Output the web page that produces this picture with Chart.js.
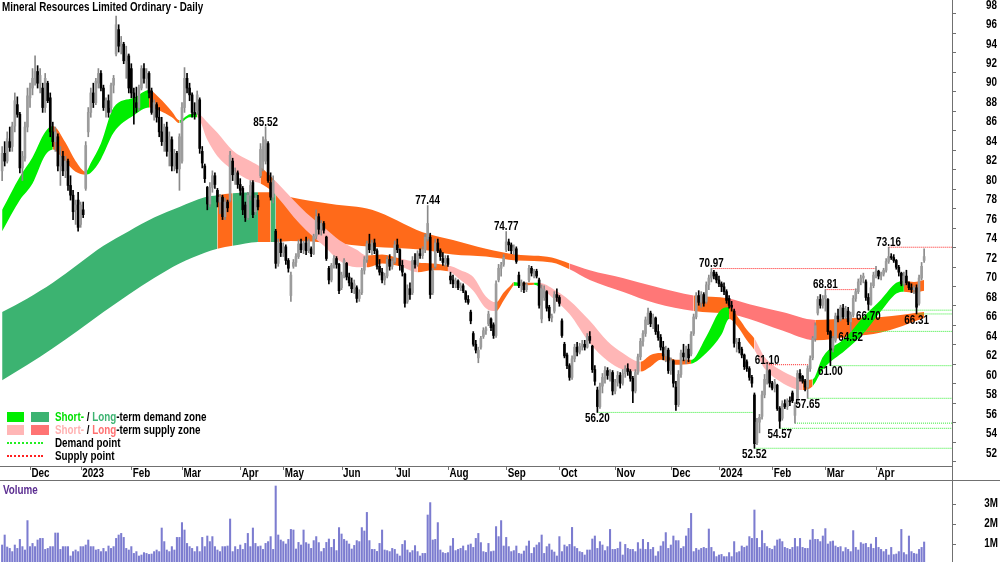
<!DOCTYPE html>
<html>
<head>
<meta charset="utf-8">
<title>Mineral Resources Limited Ordinary - Daily</title>
<script src="https://cdn.jsdelivr.net/npm/chart.js@4.4.1/dist/chart.umd.min.js"></script>
<style>
  body { margin: 0; background: #fff; }
  #wrap { position: relative; width: 1000px; height: 562px; overflow: hidden; background: #fff; font-family: "Liberation Sans", Arial, sans-serif; }
  canvas { position: absolute; left: 0; }
  #main { top: 0; }
  #vol { top: 481px; }
  .txt { position: absolute; white-space: nowrap; font-weight: bold; font-size: 12px; line-height: 14px; transform: scaleX(0.82); transform-origin: 0 50%; color: #000; }
  .box { position: absolute; height: 10px; }
  .dots { position: absolute; width: 36px; height: 0; border-top: 2px dotted; }
</style>
</head>
<body>
<div id="wrap">
  <canvas id="main" width="1000" height="481"></canvas>
  <canvas id="vol" width="1000" height="81"></canvas>

  <div class="txt" style="left:2px;top:0px">Mineral Resources Limited Ordinary - Daily</div>

  <div class="box" style="left:7px;top:412px;width:17px;background:#00ee00"></div>
  <div class="box" style="left:31px;top:412px;width:18px;background:#3cb371"></div>
  <div class="txt" style="left:55px;top:410px"><span style="color:#00e000">Short-</span> / <span style="color:#3cb371">Long</span>-term demand zone</div>
  <div class="box" style="left:7px;top:425px;width:17px;background:#ffb6b6"></div>
  <div class="box" style="left:31px;top:425px;width:18px;background:#ff7373"></div>
  <div class="txt" style="left:55px;top:423px"><span style="color:#ffb0b0">Short-</span> / <span style="color:#ff7070">Long</span>-term supply zone</div>
  <div class="dots" style="left:7px;top:442px;border-color:#22ee22"></div>
  <div class="txt" style="left:55px;top:436px">Demand point</div>
  <div class="dots" style="left:7px;top:455px;border-color:#ff2020"></div>
  <div class="txt" style="left:55px;top:449px">Supply point</div>

  <div class="txt" style="left:3px;top:483px;color:#5b2d91">Volume</div>
</div>

<script>
// daily candles, 16 Nov 2022 .. 30 Apr 2024 (index = trading day)
const opens = [
  81.0,82.8,82.0,84.0,83.5,85.6,87.8,86.8,81.3,82.3, 85.5,88.5,89.5,90.5,91.2,90.0,89.5,87.5,90.0,88.5,
  85.0,84.0,84.5,81.5,82.5,81.0,82.0,79.5,78.5,77.0, 78.0,75.5,77.0,79.2,85.0,87.0,89.0,88.0,90.0,91.0,
  89.5,87.5,88.2,87.5,89.8,93.0,95.5,93.8,94.0,92.3, 92.8,91.5,89.0,88.0,87.5,89.5,91.5,90.5,91.0,89.2,
  87.0,87.8,86.5,85.0,84.0,85.5,83.0,84.2,81.5,82.8, 81.2,82.0,87.5,90.5,89.5,88.8,87.0,87.2,88.3,83.0,
  81.5,79.3,77.6,79.3,80.5,79.0,77.8,78.3,76.3,77.8, 78.0,82.0,80.6,80.8,79.6,79.2,77.5,76.2,78.5,79.8,
  76.8,78.0,80.5,82.0,82.0,83.8,79.8,78.3,74.8,71.5, 73.6,72.6,73.2,71.8,68.2,71.2,71.6,72.2,73.5,72.9,
  73.6,72.8,73.0,72.5,74.3,76.3,75.0,75.6,74.2,71.0, 69.8,71.3,72.0,71.4,69.0,70.3,71.5,70.1,69.5,68.9,
  69.0,67.9,68.5,70.8,71.9,73.5,72.9,73.6,72.8,71.2, 70.6,69.8,70.2,71.9,71.2,71.7,73.4,72.9,71.3,70.4,
  67.6,68.9,68.5,71.8,71.4,72.5,72.3,72.9,74.0,74.2, 68.5,71.2,73.6,72.8,72.0,71.6,72.0,70.2,69.8,69.4,
  69.7,69.0,69.2,68.6,67.8,66.5,64.3,63.2,61.8,62.9, 64.0,64.6,65.3,65.8,65.2,64.1,69.8,71.0,71.4,72.9,
  73.7,73.4,72.8,73.0,70.3,69.2,69.5,68.8,69.8,71.0, 70.5,70.7,69.8,65.8,68.0,68.6,67.0,65.9,66.6,68.3,
  68.0,65.6,63.2,62.1,61.0,59.8,61.7,62.9,62.4,63.0, 63.2,62.9,64.0,63.0,60.6,58.5,56.8,58.9,59.8,60.5,
  60.0,60.3,58.4,59.3,60.0,59.2,60.2,60.7,60.4,59.7, 58.4,60.3,61.9,63.5,64.3,65.7,66.4,65.3,65.9,64.5,
  63.9,62.9,62.0,62.6,60.5,61.5,58.8,57.0,60.1,62.3, 61.9,62.7,62.2,64.3,66.0,68.2,67.5,68.3,67.6,69.3,
  70.0,70.6,70.4,69.8,69.4,69.1,68.6,67.9,67.2,66.6, 63.3,63.4,62.7,62.1,61.4,60.7,59.8,58.0,53.1,55.2,
  55.8,58.0,59.6,60.5,59.2,58.7,59.0,56.6,55.6,57.1, 56.8,57.4,58.2,55.9,57.2,60.2,59.9,59.4,58.8,60.7,
  61.8,63.8,66.4,67.8,67.2,67.9,67.8,64.5,62.8,63.6, 66.1,65.8,66.9,66.0,66.6,65.5,66.2,67.9,68.6,69.6,
  70.0,69.6,68.0,67.3,69.2,70.3,70.7,70.2,70.4,70.8, 71.7,72.2,72.1,71.8,71.1,70.5,69.4,70.2,69.5,69.0,
  68.8,69.0,67.4,70.0,71.8
];
const highs = [
  83.5,84.0,85.0,85.5,86.0,89.0,88.6,87.0,83.0,86.0, 89.5,90.0,91.5,92.8,91.8,91.5,90.0,91.0,90.2,89.0,
  86.0,85.5,84.8,83.5,83.0,82.5,82.2,80.5,79.0,78.0, 78.8,77.8,77.8,84.0,87.5,89.5,90.0,90.5,91.5,91.3,
  89.8,88.5,88.8,90.0,90.8,96.9,96.0,94.8,94.2,93.8, 93.0,92.0,89.5,89.6,89.8,91.8,92.0,91.5,91.2,89.5,
  88.3,88.0,87.5,86.5,85.8,86.0,85.0,84.5,83.2,83.0, 84.8,88.0,91.6,91.0,90.0,89.0,88.0,89.2,88.5,83.5,
  81.7,79.4,79.8,81.0,80.8,79.2,78.6,78.5,78.2,78.0, 83.0,82.3,81.3,81.0,80.2,79.4,77.8,78.8,80.0,80.0,
  78.5,78.5,83.8,84.5,85.52,84.0,80.8,80.5,75.0,74.0, 74.0,73.6,73.4,72.0,70.6,71.9,72.5,73.9,74.0,73.8,
  74.2,74.0,73.2,74.5,77.0,76.6,75.9,75.8,74.3,71.2, 71.5,72.3,72.2,71.5,70.6,72.0,71.6,70.5,70.0,69.8,
  69.2,68.8,71.0,72.2,73.8,74.5,73.9,74.0,73.0,71.9, 71.0,70.5,72.2,72.4,72.0,73.8,74.0,73.0,71.8,70.5,
  69.3,69.5,72.2,72.5,72.8,73.0,73.2,74.5,77.44,74.6, 71.0,74.0,74.0,73.0,72.6,72.3,72.3,70.6,70.3,70.0,
  69.8,69.5,69.4,68.7,68.2,66.7,64.5,63.6,62.9,64.0, 64.9,65.0,66.6,65.9,65.4,69.7,71.4,71.6,72.4,74.77,
  74.0,73.6,73.4,73.2,70.6,69.8,69.6,69.5,71.3,71.2, 70.9,70.9,70.0,69.3,69.2,68.7,67.2,66.3,68.6,68.9,
  68.2,65.8,63.4,62.3,61.2,62.0,63.2,63.4,63.3,63.6, 63.6,64.3,64.5,63.1,61.0,58.8,59.2,60.2,60.9,60.8,
  60.6,60.5,59.6,60.4,60.3,60.6,61.0,61.2,60.6,59.9, 60.6,62.2,63.8,64.6,66.0,66.9,66.6,66.3,66.0,65.2,
  64.2,63.5,63.0,62.8,61.8,61.6,59.4,60.5,62.6,63.2, 63.0,63.2,64.5,66.3,68.5,68.7,68.6,68.5,69.6,70.3,
  70.97,70.8,70.6,70.2,69.6,69.5,68.8,68.2,67.6,66.8, 63.8,63.8,62.9,62.2,61.6,60.9,60.0,58.2,55.6,56.0,
  58.4,60.1,61.10,60.6,59.4,59.6,59.1,56.8,57.4,57.5, 57.6,57.8,58.4,57.2,60.5,60.6,60.0,59.6,61.0,62.0,
  64.0,65.4,68.1,68.3,68.2,68.81,67.9,64.6,64.0,66.4, 66.8,67.2,67.3,67.1,67.0,66.5,68.2,68.9,69.9,70.3,
  70.5,69.8,68.4,69.5,70.6,71.2,70.8,70.6,71.0,72.0, 73.16,72.5,72.4,71.9,71.3,70.6,70.6,70.8,69.6,69.4,
  69.2,69.3,70.3,71.6,73.0
];
const lows = [
  80.0,81.5,81.8,83.0,83.0,85.0,86.5,80.8,80.0,82.0, 85.0,87.5,88.8,89.8,89.5,89.0,87.0,87.0,88.0,84.5,
  83.5,83.0,81.0,79.5,80.5,80.3,79.0,78.0,76.0,75.5, 74.8,75.2,76.2,79.0,84.5,86.5,87.5,87.8,89.5,89.2,
  87.2,86.5,86.5,87.0,89.0,92.8,93.2,93.0,92.0,90.5, 89.0,88.5,85.8,87.0,87.2,89.3,90.0,89.5,88.5,86.8,
  86.2,86.0,84.5,83.6,83.0,82.5,81.5,81.0,81.0,80.8, 79.0,81.8,87.0,89.0,88.2,86.5,86.3,86.8,82.8,81.3,
  79.8,77.0,77.3,78.8,79.2,77.3,76.6,76.0,76.0,76.8, 77.8,80.0,79.6,79.2,78.5,76.5,75.8,76.0,78.0,76.2,
  76.5,77.0,80.3,81.0,81.7,79.8,78.0,77.7,71.0,71.2, 72.2,72.2,71.4,70.6,67.6,71.0,71.2,72.0,72.6,72.5,
  72.4,72.6,72.2,72.4,74.0,74.5,74.4,74.6,71.8,69.4, 69.6,71.0,71.0,68.4,68.8,70.0,69.8,69.2,68.5,68.4,
  67.5,67.6,68.3,70.4,71.6,72.6,72.4,72.5,70.9,70.3, 69.5,69.3,70.0,70.8,70.9,71.5,72.6,70.8,70.2,67.0,
  67.4,67.8,68.3,71.0,71.2,72.0,72.0,72.6,73.8,67.9, 68.3,71.0,72.6,71.8,71.3,71.2,71.2,69.4,69.0,69.0,
  68.8,68.7,68.5,67.5,67.3,65.3,63.0,62.3,61.3,62.7, 63.8,64.2,65.1,64.6,63.8,63.9,69.6,70.2,71.2,72.7,
  72.8,72.5,72.4,71.5,69.0,68.6,68.5,68.6,69.6,70.2, 70.0,70.0,66.9,65.4,67.7,66.6,65.6,65.5,66.4,67.6,
  67.1,63.9,61.8,60.7,59.5,59.6,61.4,62.0,62.2,62.6, 62.6,62.8,63.3,60.3,59.0,56.2,56.6,58.2,59.2,59.6,
  59.4,58.0,58.1,58.9,58.7,59.0,59.8,60.0,59.4,57.2, 58.2,60.1,61.6,63.0,64.0,65.2,65.0,64.8,64.2,63.6,
  62.6,61.6,61.4,60.2,60.1,58.8,56.4,56.8,59.8,61.5, 61.2,61.4,62.0,64.1,65.8,67.2,67.0,67.1,67.4,68.8,
  69.6,69.9,69.5,69.1,68.6,68.3,67.4,66.9,66.6,62.9, 62.4,62.3,61.8,60.6,60.4,59.5,58.8,52.52,52.9,54.1,
  55.5,57.7,59.1,58.8,58.5,58.3,56.4,54.57,55.4,56.6, 56.5,56.9,57.2,55.1,57.0,59.4,59.2,58.4,57.65,60.4,
  61.6,63.5,66.2,66.9,66.9,66.6,64.2,61.00,62.4,63.4, 65.5,65.6,65.8,65.8,65.2,64.52,66.0,67.6,68.4,69.3,
  69.5,67.7,66.70,67.2,69.0,70.0,69.9,69.8,70.2,70.6, 71.5,71.9,71.6,70.9,70.2,69.2,69.2,69.3,68.8,68.5,
  68.4,66.31,67.2,69.8,71.6
];
const closes = [
  82.8,82.0,84.3,83.4,85.6,88.2,86.8,81.3,82.5,85.5, 88.7,89.5,90.5,91.2,90.0,90.8,87.5,90.5,88.2,85.0,
  84.0,85.0,81.5,82.5,81.0,82.0,79.5,78.5,76.8,77.5, 75.2,77.5,76.5,83.6,87.0,89.0,88.0,90.2,91.0,89.5,
  87.5,88.2,87.0,89.8,90.5,96.0,93.8,94.2,92.3,93.0, 89.5,89.0,88.5,87.5,89.5,91.5,90.5,91.0,89.0,87.0,
  88.0,86.5,85.0,84.0,85.5,83.0,84.5,81.5,82.8,81.2, 84.5,87.5,90.5,89.5,88.8,87.0,86.8,88.8,83.3,81.8,
  80.2,77.6,79.3,80.5,79.6,77.8,78.3,76.3,77.8,77.2, 82.6,80.6,80.8,79.6,79.0,77.0,76.2,78.5,79.5,76.5,
  78.2,77.3,83.2,83.5,84.2,80.0,78.3,80.0,71.5,73.6, 72.6,73.2,71.8,71.0,70.3,71.6,72.2,73.5,72.9,73.6,
  72.8,73.8,72.5,74.3,76.3,75.0,75.6,74.9,72.0,69.8, 71.3,72.0,71.4,68.7,70.3,71.8,70.1,69.5,68.9,69.4,
  67.9,68.5,70.8,71.9,73.5,72.9,73.6,72.8,71.2,70.6, 69.8,70.2,71.9,71.2,71.7,73.4,72.9,71.3,70.6,67.4,
  68.9,68.3,71.8,71.4,72.5,72.3,72.9,74.2,75.6,68.3, 70.7,73.6,72.8,72.2,71.6,72.0,71.4,69.8,69.4,69.7,
  69.0,69.2,68.7,67.8,67.5,65.6,63.2,62.6,62.6,63.8, 64.6,64.8,66.3,64.9,64.1,69.4,71.0,71.3,72.1,73.7,
  73.4,72.8,73.1,71.7,69.2,69.5,68.8,69.3,71.0,70.5, 70.7,70.2,67.2,68.9,68.8,66.9,65.9,66.1,68.3,68.0,
  67.4,64.1,62.0,61.0,59.8,61.7,62.9,62.4,63.0,63.2, 62.9,64.0,63.6,60.6,59.4,56.8,58.9,59.8,60.5,60.0,
  60.3,58.4,59.3,60.0,59.2,60.2,60.7,60.4,59.7,58.4, 60.3,61.9,63.5,64.3,65.7,66.4,65.3,65.9,64.5,63.9,
  62.9,62.0,62.6,60.5,61.5,59.2,57.0,60.1,62.3,61.9, 62.7,61.8,64.2,66.0,68.2,67.5,68.3,67.4,69.3,70.0,
  70.6,70.2,69.8,69.4,69.1,68.6,67.7,67.2,67.0,63.3, 63.4,62.7,62.1,60.9,60.7,59.8,59.2,53.0,55.2,55.7,
  58.0,59.6,60.5,59.2,58.7,59.3,56.6,55.3,57.1,56.8, 57.4,57.3,57.4,56.9,60.2,59.7,59.4,58.8,60.7,61.7,
  63.8,65.1,67.8,67.2,67.9,68.2,64.5,62.6,63.8,66.1, 65.8,67.0,66.0,66.8,65.5,66.2,67.9,68.6,69.6,70.0,
  70.2,68.0,67.3,69.0,70.3,70.7,70.2,70.4,70.8,71.7, 72.2,72.1,71.8,71.1,70.6,69.4,70.2,69.5,69.0,68.8,
  69.0,67.0,70.0,71.2,72.2
];
// volume, millions of shares
const volumes = [
  0.95,1.45,0.85,0.78,0.62,0.95,0.78,1.23,0.87,0.7, 2.17,0.87,1.03,0.87,1.2,1.28,1.28,0.73,0.78,0.87,
  0.87,1.55,1.55,0.73,0.87,0.87,0.87,0.4,0.62,0.7, 0.62,0.87,0.87,0.95,1.2,0.87,0.87,0.7,0.73,0.62,
  0.78,0.62,0.9,0.78,0.87,1.28,1.45,1.53,1.33,0.78, 0.7,0.87,0.53,0.62,0.4,0.45,0.57,0.53,0.48,0.5,
  0.62,0.7,0.62,1.8,1.12,0.7,0.62,0.87,0.7,1.33, 1.33,2.07,1.7,1.03,0.87,0.78,0.62,0.87,0.62,1.33,
  0.87,1.4,1.12,1.37,0.87,0.7,0.62,0.87,0.87,0.9, 2.25,0.62,0.87,0.73,0.95,0.73,1.03,1.53,0.87,1.8,
  1.03,0.87,0.9,0.73,1.03,1.12,1.37,0.73,3.9,1.45, 1.2,1.12,1.0,1.23,1.73,1.7,0.75,1.08,0.95,1.7,
  1.07,1.0,0.78,1.17,1.37,1.07,0.62,0.78,1.08,1.25, 0.83,1.23,0.67,1.82,1.5,1.23,1.15,1.0,0.75,0.93,
  1.17,1.12,1.82,1.65,2.58,1.17,0.73,0.73,0.63,1.03, 1.7,0.7,0.67,0.62,0.78,0.73,0.5,0.4,0.98,1.17,
  0.7,0.57,0.67,0.92,0.62,0.4,0.53,0.53,2.45,3.07, 1.2,1.23,2.07,0.7,0.57,0.53,0.57,0.9,1.28,0.67,
  0.73,0.78,0.9,0.67,0.95,1.0,0.83,1.28,1.53,1.07, 0.62,0.58,1.03,0.62,0.65,1.87,1.37,2.17,0.9,1.33,
  0.87,0.62,0.67,0.9,0.53,0.5,0.65,0.9,1.15,0.53, 0.82,0.95,1.07,1.45,0.53,0.87,1.0,0.7,0.6,0.4,
  1.37,0.62,0.95,0.87,0.98,1.83,0.87,0.78,0.62,0.58, 0.45,0.7,0.7,1.25,1.4,0.78,1.12,0.95,0.67,0.87,
  1.73,0.73,0.73,0.78,1.1,0.45,0.98,0.78,0.73,0.73, 0.62,1.07,0.75,1.23,0.73,1.08,0.73,0.83,0.4,0.62,
  0.9,1.12,1.57,0.78,0.95,1.4,1.17,1.17,0.78,0.87, 1.4,1.78,2.53,0.62,0.78,0.7,0.78,0.83,0.78,1.75,
  0.83,0.62,0.37,0.45,0.48,0.37,0.37,0.57,0.37,1.12, 0.57,0.62,0.9,0.83,0.9,1.37,1.28,2.7,1.28,0.83,
  1.67,1.03,0.87,0.78,0.73,0.9,1.2,1.25,1.12,0.83, 0.78,0.73,0.83,1.28,0.87,1.28,0.83,0.78,0.78,1.2,
  1.73,1.23,1.23,1.12,1.4,1.77,1.0,1.12,1.15,0.9, 0.83,0.87,0.62,0.82,0.73,0.62,1.67,0.83,0.7,1.07,
  1.0,1.03,0.83,1.0,0.78,1.33,0.83,0.73,0.62,0.73, 0.45,0.83,0.47,0.5,0.62,1.73,0.57,0.47,1.4,0.62,
  0.53,0.5,0.73,0.83,1.1
];

// short-term zone band (two edges), read at these trading days
const shortIdx = [0,7,12,17,20,25,29,33,35,39,44,52,58,62,67,70,74,77,81,85,91,98,102,107,110,115,120,127,133,140,144,150,157,164,170,176,181,186,191,195,198,201,202,205,210,212,218,224,232,239,245,252,256,260,266,272,278,284,287,291,294,297,301,307,313,316,320,324,333,340,347,353,356,360,364];
const shortHi = [77.0,80.4,82.4,85.0,85.6,83.9,82.0,80.9,81.8,83.8,87.5,88.5,89.3,88.5,87.1,86.2,86.8,86.9,86.0,84.9,83.1,82.0,81.4,80.2,79.4,78.0,76.7,75.2,73.9,72.9,72.3,72.4,72.0,71.6,71.5,71.3,70.8,70.1,68.1,67.5,68.5,69.3,69.6,69.5,69.5,69.5,68.8,67.7,65.6,63.5,62.3,61.4,62.1,62.3,61.6,61.6,64.0,66.8,67.0,65.8,64.7,63.8,61.9,60.6,59.8,59.5,59.6,61.9,63.9,66.0,67.8,69.5,69.7,69.6,69.8];
const shortLo = [74.8,78.0,79.7,82.6,83.2,81.9,80.9,80.6,80.8,82.2,84.9,86.7,87.5,87.2,86.5,85.9,86.5,86.5,84.2,82.5,81.1,80.0,79.7,78.8,77.9,76.3,74.9,73.3,71.8,71.1,71.1,71.5,71.2,70.6,70.8,70.7,69.8,68.7,66.9,66.6,67.7,68.9,69.2,69.2,69.3,69.1,67.8,66.3,63.3,61.5,60.6,60.4,60.9,61.6,61.1,61.2,62.3,64.2,65.8,64.8,63.6,62.6,60.7,59.4,58.6,58.5,58.9,60.6,62.6,64.3,66.6,68.4,68.6,68.5,68.7];
// zone state from each point to the next: D demand, S supply, M mixed
const shortZone = ['D','D','D','D','M','M','M','D','D','D','D','D','M','M','M','D','D','S','S','S','S','S','M','S','S','S','S','S','S','S','M','M','S','M','M','S','S','S','S','M','M','M','D','M','D','S','S','S','S','S','S','M','M','M','M','D','D','D','M','M','M','S','S','S','S','M','D','D','D','D','D','D','M','M','M'];

// long-term zone band
const longIdx = [0,10,20,30,40,50,60,70,80,85,91,101,106,108,114,130,146,166,178,191,203,217,224,232,245,258,273,287,295,308,321,335,347,364];
const longHi = [66.5,67.9,69.5,71.4,73.3,74.8,76.2,77.3,78.3,78.5,78.7,78.8,78.8,78.7,78.3,77.6,77.0,74.7,73.9,73.0,72.4,72.1,71.5,70.8,70.0,69.1,68.2,67.9,67.3,66.5,65.7,65.9,66.0,66.5];
const longLo = [59.5,61.1,62.8,64.6,66.5,68.3,70.0,71.5,72.6,73.0,73.3,73.7,73.7,73.7,73.8,73.6,73.2,72.9,72.4,72.2,71.8,71.6,70.9,69.8,68.6,67.4,66.6,66.3,65.8,64.6,63.6,64.0,64.4,65.9];
const longZone = ['D','D','D','D','D','D','D','D','D','M','D','M','D','M','M','M','M','M','M','M','M','M','S','S','S','S','M','S','S','S','M','M','M','M'];

// demand points (lows) and supply points (highs); end = day the level broke, null = still open
const demandIdx = [235,297,307,313,318,327,335,342,361];
const demandEnd = [297,null,null,null,null,null,null,null,null];
const supplyIdx = [280,302,325,350];
const supplyEnd = [345,319,338,null];
const labelledHighs = [104,168,199,280,302,325,350];
const labelledLows = [235,297,307,318,327,335,342,361];

const monthIdx = [11,31,51,71,94,111,134,155,176,199,220,242,264,283,304,325,345];
const monthLabels = ['Dec','2023','Feb','Mar','Apr','May','Jun','Jul','Aug','Sep','Oct','Nov','Dec','2024','Feb','Mar','Apr'];
const priceTicks = [52,54,56,58,60,62,64,66,68,70,72,74,76,78,80,82,84,86,88,90,92,94,96,98];
const volTicks = [1,2,3];
const volTickLabels = ['1M','2M','3M'];

const X_MIN = -0.845, X_MAX = 375;
const shortColors = { D: '#00ee00', S: '#ffb6b6', M: '#ff6a1a' };
const longColors = { D: '#3cb371', S: '#ff7777', M: '#ff6a1a' };

function narrowText(ctx, s, x, y, align) {
  ctx.save();
  ctx.font = 'bold 12px "Liberation Sans", Arial, sans-serif';
  ctx.textBaseline = 'middle';
  ctx.textAlign = align;
  ctx.translate(x, y);
  ctx.scale(0.82, 1);
  ctx.fillText(s, 0, 0);
  ctx.restore();
}

function band(idx, vals, fillTo, zones, colors) {
  return {
    type: 'line',
    data: idx.map((i, k) => ({ x: i, y: vals[k] })),
    borderColor: 'rgba(0,0,0,0)',
    borderWidth: 0,
    pointRadius: 0,
    cubicInterpolationMode: 'monotone',
    backgroundColor: zones ? colors[zones[0]] : 'rgba(0,0,0,0)',
    fill: fillTo,
    segment: zones ? { backgroundColor: c => colors[zones[c.p0DataIndex]] } : undefined
  };
}

function levelLine(a, b, v, col) {
  return {
    type: 'line',
    data: [{ x: a, y: v }, { x: b === null ? X_MAX : b, y: v }],
    borderColor: col,
    borderWidth: 1,
    borderDash: [1, 1],
    pointRadius: 0,
    fill: false
  };
}

const up = closes.map((c, i) => c >= opens[i]);

const frame = {
  id: 'frame',
  afterDraw(chart) {
    const { ctx, chartArea: a, scales: { x, y } } = chart;
    ctx.save();
    ctx.strokeStyle = '#707070';
    ctx.lineWidth = 1;
    ctx.beginPath();
    ctx.moveTo(a.right + 0.5, 0); ctx.lineTo(a.right + 0.5, a.bottom + 14);
    ctx.moveTo(0, a.bottom + 0.5); ctx.lineTo(a.right, a.bottom + 0.5);
    ctx.moveTo(0, a.bottom + 14.5); ctx.lineTo(chart.width, a.bottom + 14.5);
    priceTicks.forEach(v => {
      const py = Math.round(y.getPixelForValue(v)) + 8.5;
      ctx.moveTo(a.right, py); ctx.lineTo(a.right + 4, py);
    });
    monthIdx.forEach(i => {
      const px = Math.round(x.getPixelForValue(i)) + 0.5;
      ctx.moveTo(px, a.bottom); ctx.lineTo(px, a.bottom + 4);
    });
    ctx.stroke();
    ctx.fillStyle = '#000';
    priceTicks.forEach(v => narrowText(ctx, String(v), 997, y.getPixelForValue(v), 'right'));
    monthLabels.forEach((t, k) => narrowText(ctx, t, x.getPixelForValue(monthIdx[k]) + 1.5, a.bottom + 8, 'left'));
    ctx.restore();
  }
};

const pointLabels = {
  id: 'pointLabels',
  afterDatasetsDraw(chart) {
    const { ctx, scales: { x, y } } = chart;
    ctx.save();
    ctx.fillStyle = '#000';
    labelledHighs.forEach(i => narrowText(ctx, highs[i].toFixed(2), x.getPixelForValue(i), y.getPixelForValue(highs[i]) - 4.5, 'center'));
    labelledLows.forEach(i => narrowText(ctx, lows[i].toFixed(2), x.getPixelForValue(i), y.getPixelForValue(lows[i]) + 6.5, 'center'));
    ctx.restore();
  }
};

const levels = [];
demandIdx.forEach((i, k) => levels.push(levelLine(i, demandEnd[k], lows[i], '#33ee33')));
supplyIdx.forEach((i, k) => levels.push(levelLine(i, supplyEnd[k], highs[i], '#ff2020')));

new Chart(document.getElementById('main'), {
  type: 'bar',
  data: {
    datasets: [
      {
        data: closes.map((c, i) => ({ x: i, y: [opens[i], c] })),
        backgroundColor: up.map(u => u ? '#9c9c9c' : '#000000'),
        barThickness: 2,
        minBarLength: 1,
        grouped: false
      },
      {
        data: highs.map((h, i) => ({ x: i, y: [lows[i], h] })),
        backgroundColor: up.map(u => u ? '#8a8a8a' : '#000000'),
        barThickness: 1,
        grouped: false
      },
      ...levels,
      band(shortIdx, shortHi, '+1', shortZone, shortColors),
      band(shortIdx, shortLo, false),
      band(longIdx, longHi, '+1', longZone, longColors),
      band(longIdx, longLo, false)
    ]
  },
  options: {
    responsive: false,
    animation: false,
    events: [],
    layout: { padding: { left: 0, right: 48, top: 0, bottom: 15 } },
    plugins: { legend: { display: false }, tooltip: { enabled: false } },
    scales: {
      x: { type: 'linear', offset: false, min: X_MIN, max: X_MAX, display: false },
      y: { type: 'linear', min: 50.70, max: 98.54, display: false }
    }
  },
  plugins: [frame, pointLabels]
});

const volFrame = {
  id: 'volFrame',
  afterDraw(chart) {
    const { ctx, chartArea: a, scales: { y } } = chart;
    ctx.save();
    ctx.strokeStyle = '#707070';
    ctx.lineWidth = 1;
    ctx.beginPath();
    ctx.moveTo(a.right + 0.5, 0); ctx.lineTo(a.right + 0.5, chart.height);
    volTicks.forEach(v => {
      const py = Math.round(y.getPixelForValue(v)) + 0.5;
      ctx.moveTo(a.right, py); ctx.lineTo(a.right + 4, py);
    });
    ctx.stroke();
    ctx.fillStyle = '#000';
    volTicks.forEach((v, k) => narrowText(ctx, volTickLabels[k], 998, y.getPixelForValue(v), 'right'));
    ctx.restore();
  }
};

new Chart(document.getElementById('vol'), {
  type: 'bar',
  data: {
    datasets: [{
      data: volumes.map((v, i) => ({ x: i, y: v })),
      backgroundColor: '#7c7cd0',
      barThickness: 1.4
    }]
  },
  options: {
    responsive: false,
    animation: false,
    events: [],
    layout: { padding: { left: 0, right: 48, top: 0, bottom: 0 } },
    plugins: { legend: { display: false }, tooltip: { enabled: false } },
    scales: {
      x: { type: 'linear', offset: false, min: X_MIN, max: X_MAX, display: false },
      y: { type: 'linear', min: 0.1, max: 4.15, display: false }
    }
  },
  plugins: [volFrame]
});
</script>
</body>
</html>
